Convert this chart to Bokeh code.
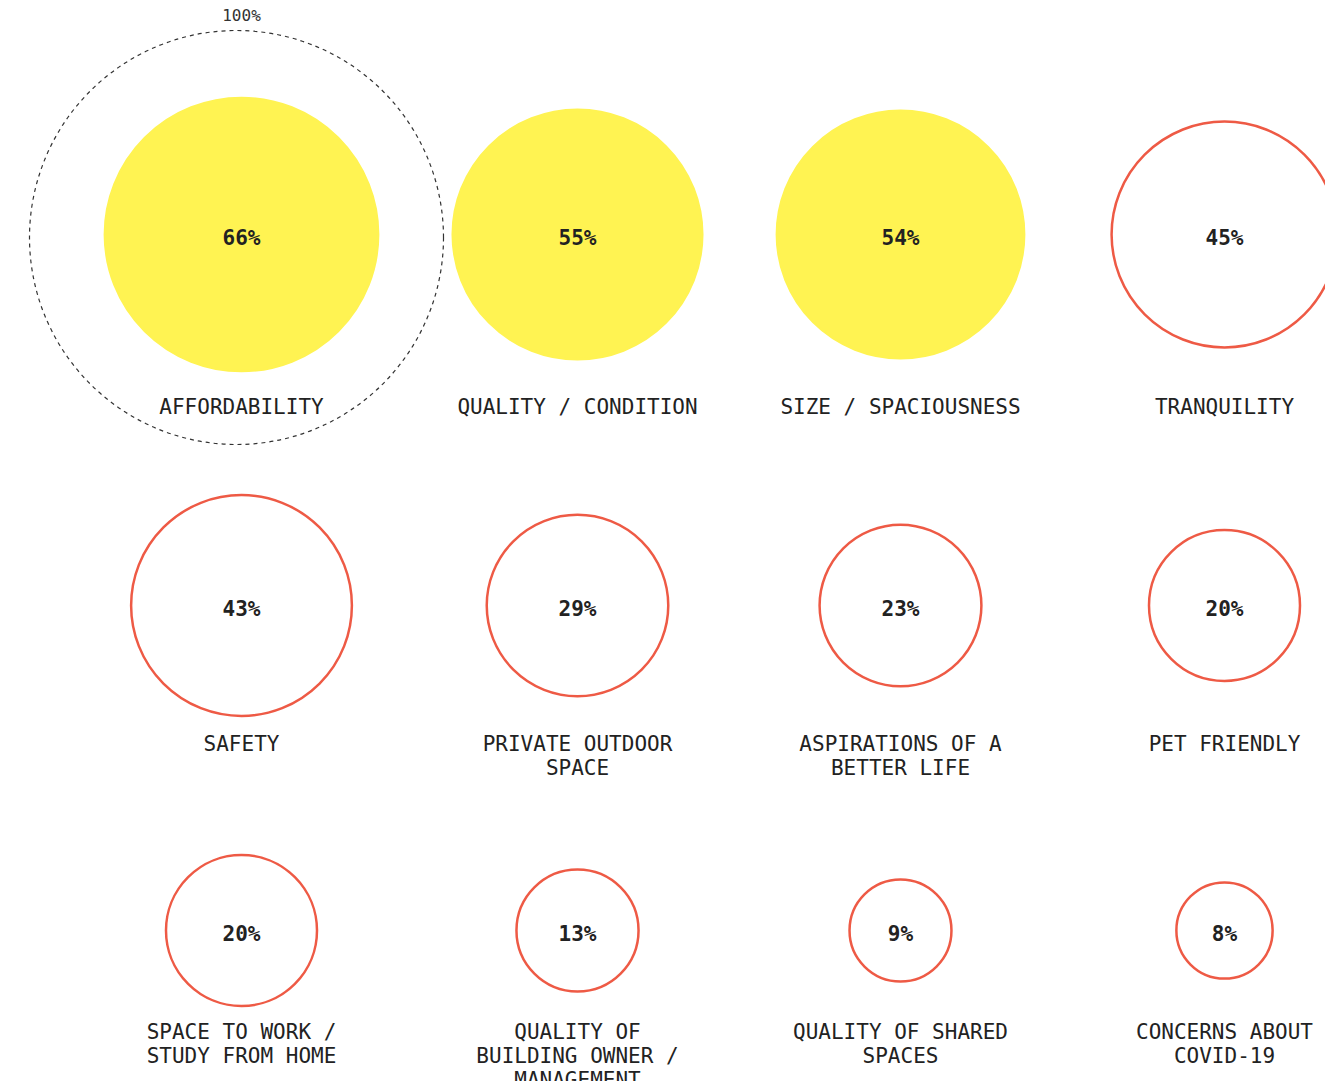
import numpy as np
from bokeh.plotting import figure
from bokeh.models import Range1d, ColumnDataSource
from bokeh.core.properties import value
from bokeh.embed import file_html
from bokeh.resources import INLINE

# ---- data ----
categories = [
    "AFFORDABILITY", "QUALITY / CONDITION", "SIZE / SPACIOUSNESS", "TRANQUILITY",
    "SAFETY", "PRIVATE OUTDOOR\nSPACE", "ASPIRATIONS OF A\nBETTER LIFE", "PET FRIENDLY",
    "SPACE TO WORK /\nSTUDY FROM HOME", "QUALITY OF\nBUILDING OWNER /\nMANAGEMENT",
    "QUALITY OF SHARED\nSPACES", "CONCERNS ABOUT\nCOVID-19",
]
percents = [66, 55, 54, 45, 43, 29, 23, 20, 20, 13, 9, 8]
highlight = [True, True, True, False, False, False, False, False, False, False, False, False]

# ---- layout (picture pixels) ----
col_x = [241, 577, 900, 1224]
row_y = [234, 605, 930]
label_top = [394, 731, 1019]
YELLOW = "#FFF352"
RED = "#EE5A45"
INK = "#222222"

def radius(v):
    return np.sqrt(60 + 282 * v)

xs, ys, rs, fills, lines, lys = [], [], [], [], [], []
for i, v in enumerate(percents):
    r_i, c_i = divmod(i, 4)
    xs.append(col_x[c_i]); ys.append(row_y[r_i]); rs.append(radius(v))
    fills.append(YELLOW if highlight[i] else "white")
    lines.append(YELLOW if highlight[i] else RED)
    lys.append(label_top[r_i])

src = ColumnDataSource(dict(x=xs, y=ys, ty=[y + 3 for y in ys], r=rs, fill=fills, line=lines,
                            ly=lys, pct=[f"{v}%" for v in percents], cat=categories))

W, H = 1325, 1081
p = figure(width=W, height=H, x_range=Range1d(0, W), y_range=Range1d(H, 0),
           output_backend="svg", toolbar_location=None, min_border=0)
p.axis.visible = False
p.grid.visible = False
p.outline_line_color = None
p.background_fill_color = "white"

# reference 100% circle
ref_x, ref_y, ref_r = col_x[0] - 5, row_y[0] + 3, 207
p.circle(x=[ref_x], y=[ref_y], radius=ref_r, fill_color=None, line_color="#333333",
         line_width=1.2, line_dash="4 4")
p.text(x=[col_x[0]], y=[ref_y - ref_r - 6], text=["100%"], text_font=value("DejaVu Sans Mono"),
       text_font_size="16px", text_color="#333333", text_align="center", text_baseline="bottom")

p.circle(x="x", y="y", radius="r", source=src, fill_color="fill", line_color="line", line_width=2.5)
p.text(x="x", y="ty", text="pct", source=src, text_font=value("DejaVu Sans Mono"),
       text_font_size="21px", text_font_style="bold", text_color=INK,
       text_align="center", text_baseline="middle")
p.text(x="x", y="ly", text="cat", source=src, text_font=value("DejaVu Sans Mono"),
       text_font_size="21px", text_color=INK, text_align="center", text_baseline="top",
       text_line_height=1.0)

open("out.html", "w").write(file_html(p, INLINE))
